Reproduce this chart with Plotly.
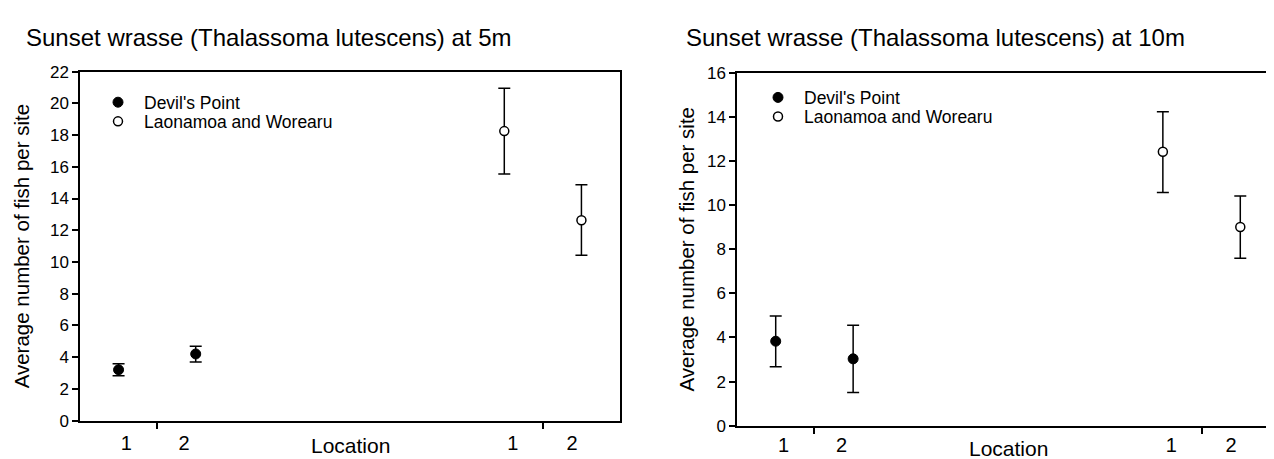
import plotly.graph_objects as go

# ---------------- data ----------------
positions = [0.5, 1.5]          # location 1, 2 (Devil's Point)
positions_lw = [5.5, 6.5]       # location 1, 2 (Laonamoa and Worearu)
loc_labels = ["1", "2", "1", "2"]
loc_label_pos = [0.6, 1.35, 5.61, 6.38]
group_ticks = [1, 6]

# 5 m
dp5_mean = [3.2, 4.2]
dp5_upper = [3.58, 4.68]
dp5_lower = [2.83, 3.70]
lw5_mean = [18.25, 12.63]
lw5_upper = [20.95, 14.87]
lw5_lower = [15.55, 10.42]

# 10 m
dp10_mean = [3.83, 3.03]
dp10_upper = [4.97, 4.55]
dp10_lower = [2.67, 1.50]
lw10_mean = [12.42, 9.01]
lw10_upper = [14.24, 10.42]
lw10_lower = [10.58, 7.59]

title_5 = "Sunset wrasse (Thalassoma lutescens) at 5m"
title_10 = "Sunset wrasse (Thalassoma lutescens) at 10m"
ytitle = "Average number of fish per site"
xtitle = "Location"
name_dp = "Devil's Point"
name_lw = "Laonamoa and Worearu"

FONT = "Liberation Sans, Arial, sans-serif"
W, H = 1274, 459


def err(mean, upper, lower):
    return dict(type="data", symmetric=False,
                array=[u - m for u, m in zip(upper, mean)],
                arrayminus=[m - l for m, l in zip(mean, lower)],
                color="black", thickness=1.5, width=6)


fig = go.Figure()


def add_pair(xa, ya, dpm, dpu, dpl, lwm, lwu, lwl, leg_a, leg_b):
    fig.add_trace(go.Scatter(
        x=positions, y=dpm, mode="markers", name=name_dp,
        marker=dict(symbol="circle", size=10, color="black",
                    line=dict(color="black", width=1)),
        error_y=err(dpm, dpu, dpl), xaxis=xa, yaxis=ya, legend=leg_a))
    fig.add_trace(go.Scatter(
        x=positions_lw, y=lwm, mode="markers", name=name_lw,
        marker=dict(symbol="circle", size=9, color="white",
                    line=dict(color="black", width=1.5)),
        error_y=err(lwm, lwu, lwl), xaxis=xa, yaxis=ya, legend=leg_b))


add_pair("x", "y", dp5_mean, dp5_upper, dp5_lower,
         lw5_mean, lw5_upper, lw5_lower, "legend", "legend2")
add_pair("x2", "y2", dp10_mean, dp10_upper, dp10_lower,
         lw10_mean, lw10_upper, lw10_lower, "legend3", "legend4")


def px_x(p):
    return p / W


def px_y(p):
    return 1 - p / H


xdom1 = [px_x(72), px_x(612)]
xdom2 = [px_x(729), px_x(1271)]
ydom1 = [px_y(421), px_y(57)]
ydom2 = [px_y(426.3), px_y(58.3)]

tickfont = dict(family=FONT, size=17, color="black")
catfont = dict(family=FONT, size=20, color="black")


def xaxis(dom, anchor, standoff):
    return dict(domain=dom, anchor=anchor, range=[0, 7], showgrid=False,
                zeroline=False, showline=True, linecolor="black", linewidth=1.5,
                mirror=True, tickmode="array", tickvals=loc_label_pos,
                ticktext=loc_labels, ticks="", ticklabelstandoff=standoff,
                tickfont=catfont,
                minor=dict(tickmode="array", tickvals=group_ticks, ticks="outside",
                           ticklen=7, tickwidth=1.5, tickcolor="black"))


def yaxis(dom, anchor, top, step, standoff):
    return dict(domain=dom, anchor=anchor, range=[0, top], showgrid=False,
                zeroline=False, showline=True, linecolor="black", linewidth=1.5,
                mirror=True, ticks="outside", ticklen=6, tickwidth=1.5,
                tickcolor="black", tickmode="linear", tick0=0, dtick=step,
                tickfont=tickfont,
                title=dict(text=ytitle, font=dict(family=FONT, size=20.5, color="black"),
                           standoff=standoff))


def legend(xp, yp):
    return dict(x=px_x(xp - 26), y=px_y(yp), xanchor="left", yanchor="middle",
                bgcolor="rgba(0,0,0,0)", borderwidth=0, itemwidth=42,
                font=dict(family=FONT, size=17.5, color="black"))


fig.update_layout(
    width=W, height=H,
    margin=dict(l=0, r=0, t=0, b=0),
    paper_bgcolor="white", plot_bgcolor="white",
    font=dict(family=FONT, color="black"),
    xaxis=xaxis(xdom1, "y", 4), yaxis=yaxis(ydom1, "x", 22, 2, 15),
    xaxis2=xaxis(xdom2, "y2", 1), yaxis2=yaxis(ydom2, "x2", 16, 2, 7),
    legend=legend(110, 89), legend2=legend(110, 109),
    legend3=legend(770, 84), legend4=legend(770, 104),
    showlegend=True,
    annotations=[
        dict(text=title_5, x=px_x(16), y=px_y(21), xref="paper", yref="paper",
             xanchor="left", yanchor="middle", showarrow=False,
             font=dict(family=FONT, size=24, color="black")),
        dict(text=title_10, x=px_x(676), y=px_y(21), xref="paper", yref="paper",
             xanchor="left", yanchor="middle", showarrow=False,
             font=dict(family=FONT, size=24, color="black")),
        dict(text=xtitle, x=0.5, y=px_y(447), xref="x domain", yref="paper",
             xanchor="center", yanchor="middle", showarrow=False,
             font=dict(family=FONT, size=21, color="black")),
        dict(text=xtitle, x=0.5, y=px_y(450), xref="x2 domain", yref="paper",
             xanchor="center", yanchor="middle", showarrow=False,
             font=dict(family=FONT, size=21, color="black")),
    ],
)

fig.write_html("out.html")
